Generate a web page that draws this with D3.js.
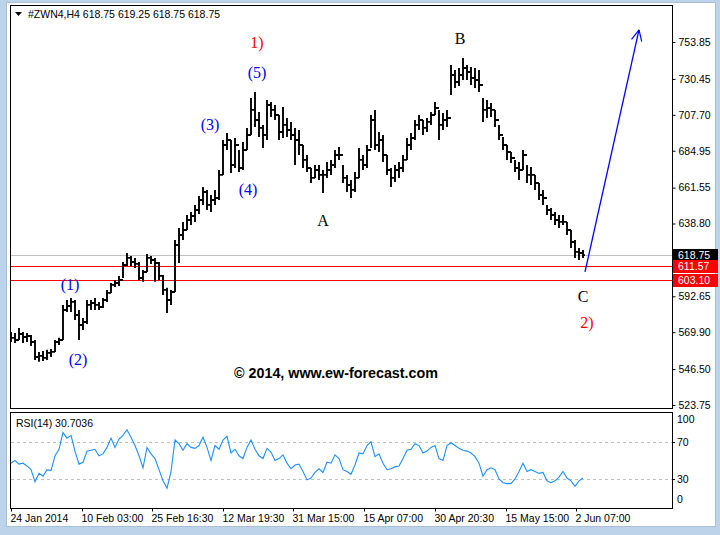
<!DOCTYPE html>
<html><head><meta charset="utf-8">
<script src="https://cdn.jsdelivr.net/npm/d3@7/dist/d3.min.js"></script>
<style>body{margin:0;background:#fff}svg{display:block}</style>
</head><body><svg id="c" width="720" height="535"></svg>
<script>
// ---- data (H4 bars, ZW N4) ----
const highs=[570.1,569.4,572.6,570.1,569.4,568.2,565.0,557.4,558.0,558.7,559.3,565.0,566.3,587.2,590.3,591.6,590.3,584.0,578.9,590.3,590.3,591.6,589.1,591.6,596.7,601.1,603.0,605.6,614.4,620.1,618.2,617.0,614.4,609.4,619.5,618.2,617.0,614.4,606.2,598.0,596.7,628.4,636.0,639.8,644.2,646.1,650.6,656.3,662.0,660.1,656.9,660.1,672.7,691.7,696.2,691.7,693.0,685.4,690.5,699.4,718.4,722.2,709.5,701.3,717.1,715.8,713.9,707.6,712.7,705.7,703.2,699.4,698.1,688.6,682.2,674.0,675.9,675.9,672.7,677.8,679.1,685.4,687.3,675.9,669.6,666.4,671.5,686.7,682.2,688.6,707.6,710.8,696.8,694.9,682.2,674.0,675.9,677.8,682.2,693.0,696.2,704.4,707.6,704.4,705.7,709.5,715.8,710.8,708.9,710.8,739.3,736.1,737.4,743.7,739.3,738.0,737.4,736.1,718.4,717.1,715.2,710.8,701.3,693.6,688.6,684.1,679.1,677.8,685.4,675.9,674.6,669.6,664.5,660.1,650.6,648.6,646.1,644.2,644.2,639.8,634.7,628.4,623.3,622.0];
const lows=[563.7,563.1,565.0,563.1,563.7,561.2,552.3,551.1,551.7,552.3,554.2,557.4,561.8,565.0,582.7,582.7,577.7,565.0,571.3,575.1,584.0,584.0,584.0,585.3,589.1,594.8,598.6,599.2,604.3,611.9,611.9,610.6,603.0,601.8,608.1,613.2,601.8,603.0,593.5,582.1,587.2,595.4,613.8,628.4,634.7,637.9,639.8,644.8,650.6,647.4,646.1,650.6,653.7,669.6,685.4,670.8,674.0,671.5,672.7,685.4,694.9,700.0,693.6,686.7,691.7,706.3,704.4,691.7,693.0,693.6,691.7,675.9,682.2,674.0,671.5,664.5,667.7,666.4,658.2,667.7,669.6,674.0,679.1,664.5,658.8,655.0,658.8,667.7,672.7,674.0,686.7,685.4,684.1,677.8,669.6,662.0,665.1,667.7,671.5,679.1,685.4,691.7,698.1,694.9,696.8,701.3,707.6,691.7,698.1,700.0,720.3,724.7,726.0,729.8,729.8,726.6,724.7,722.2,703.2,705.7,706.3,700.0,691.7,685.4,679.1,677.2,671.5,666.4,672.7,664.5,663.2,660.1,653.7,650.6,644.2,641.0,637.9,636.0,637.9,631.5,623.3,617.0,615.7,617.0];
const closes=[566.3,565.0,568.8,566.9,567.5,563.7,554.2,554.9,553.6,556.8,557.4,563.7,565.0,584.0,586.5,589.1,580.8,574.5,576.4,587.2,588.4,587.2,585.9,590.3,594.8,599.9,601.1,603.0,612.5,617.0,614.4,613.2,604.3,608.1,617.0,615.7,613.8,605.6,596.7,590.3,595.4,625.2,631.5,634.7,641.0,643.6,647.4,653.7,658.8,650.6,653.7,655.0,669.6,688.6,691.7,675.9,688.6,674.0,685.4,694.9,710.8,704.4,699.4,694.9,713.9,710.8,707.6,696.8,701.3,698.1,694.9,691.7,688.6,679.1,674.0,667.7,672.7,669.6,669.6,672.7,675.9,682.2,682.2,667.7,663.2,660.1,667.7,679.1,675.9,685.4,704.4,688.6,691.7,682.2,672.7,667.7,672.7,674.0,679.1,688.6,693.0,701.3,704.4,699.4,703.2,707.6,712.0,701.3,704.4,705.7,732.9,728.5,732.9,737.4,734.8,731.0,729.8,726.6,710.8,712.0,710.8,704.4,694.9,688.6,684.1,680.3,674.0,672.7,682.2,669.6,669.6,664.5,656.9,655.0,647.4,644.2,641.0,639.8,639.8,634.7,627.1,620.8,620.1,618.75];
const rsiValues=[47,50,46,47,44,40,27,36,33,40,39,55,62,80,74,77,60,46,48,60,61,62,55,57,64,74,64,73,77,83,75,66,55,42,64,57,52,40,28,20,38,72,68,61,68,64,63,66,75,64,50,66,62,72,76,58,62,55,52,64,72,62,55,52,63,59,50,52,56,47,41,45,46,38,29,31,37,41,37,48,47,56,52,40,38,35,45,58,57,66,70,54,57,47,40,41,43,44,52,61,62,68,66,58,60,64,66,52,50,66,69,66,63,61,60,58,54,47,33,40,42,40,30,26,25,25,30,38,47,38,40,38,36,37,28,26,28,32,38,31,28,22,28,31];
const priceTicks=[753.85,730.45,707.70,684.95,661.55,638.80,592.65,569.90,546.50,523.75];
const levelValues=[618.75,611.57,603.10];
const rsiTicks=[100,70,30,0];
const rsiLevels=[70,30];
const dateLabels=["24 Jan 2014","10 Feb 03:00","25 Feb 16:30","12 Mar 19:30","31 Mar 15:00","15 Apr 07:00","30 Apr 20:30","15 May 15:00","2 Jun 07:00"];
const dateIndex=[0,17.75,35.25,53,70.5,88.25,106,123.75,141.25];
const waveText=["1)","(5)","(3)","(4)","(1)","(2)","A","B","C","2)"];
const waveIndex=[61.5,61.5,49.75,59.25,14.75,16.75,78,112.25,143,144];
const wavePrice=[753.9,734.8,701.9,660.1,600.5,552.9,641.0,756.4,592.3,576.4];
const arrowIndex=[143.5,157];
const arrowPrice=[608.1,761.5];
const titleText="#ZWN4,H4  618.75 619.25 618.75 618.75";
const rsiTitle="RSI(14) 30.7036";
const copyright="\u00a9 2014, www.ew-forecast.com";

// ---- styles ----
const waveColors=["#ff0000","#0000ff","#0000ff","#0000ff","#0000ff","#0000ff","#000","#000","#000","#ff0000"];
const levelColors=["#c0c0c0","#ff0000","#ff0000"];
const levelBg=["#000","#ff0000","#ff0000"];
const FONT="'Liberation Sans', Arial, sans-serif";
const SERIF="'Liberation Serif','Times New Roman',serif";

const svg=d3.select("#c");
// window frame
svg.append("rect").attr("x",0).attr("y",0).attr("width",720).attr("height",535).attr("fill","#bcd3ea");
svg.append("rect").attr("x",6.5).attr("y",2.5).attr("width",709).attr("height",524).attr("fill","#fff").attr("stroke","#a9bfd6");

const L=10,R=672,T=5,B=408,RT=412,RB=508;
const x=d3.scaleLinear().domain([0,165.25]).range([11,672]);
const y=d3.scaleLinear().domain([523.75,753.85]).range([405,42]);
const yr=d3.scaleLinear().domain([0,100]).range([506.8,414]);

const g=svg.append("g");
// level lines
levelValues.forEach((v,k)=>{
  g.append("line").attr("x1",L).attr("x2",R).attr("y1",Math.round(y(v))+0.5).attr("y2",Math.round(y(v))+0.5)
   .attr("stroke",levelColors[k]).attr("stroke-width",1);
});

// bars
const idx=d3.range(highs.length);
const bars=g.append("g").attr("stroke","#000").attr("stroke-width",1.9);
bars.selectAll("line.hl").data(idx).join("line").attr("class","hl")
  .attr("x1",i=>x(i)).attr("x2",i=>x(i)).attr("y1",i=>y(highs[i])).attr("y2",i=>y(lows[i]));
bars.selectAll("line.op").data(idx.filter(i=>i>0)).join("line").attr("class","op")
  .attr("x1",i=>x(i)-2).attr("x2",i=>x(i)).attr("y1",i=>y(closes[i-1])).attr("y2",i=>y(closes[i-1]));
bars.selectAll("line.cl").data(idx).join("line").attr("class","cl")
  .attr("x1",i=>x(i)).attr("x2",i=>x(i)+2).attr("y1",i=>y(closes[i])).attr("y2",i=>y(closes[i]));

// arrow
const ax1=x(arrowIndex[0]),ay1=y(arrowPrice[0]),ax2=x(arrowIndex[1]),ay2=y(arrowPrice[1]);
g.append("line").attr("x1",ax1).attr("y1",ay1).attr("x2",ax2).attr("y2",ay2).attr("stroke","#0000ff").attr("stroke-width",1.3);
const ang=Math.atan2(ay2-ay1,ax2-ax1);
[-0.45,0.45].forEach(d=>{
  g.append("line").attr("x1",ax2).attr("y1",ay2)
   .attr("x2",ax2-12*Math.cos(ang+d)).attr("y2",ay2-12*Math.sin(ang+d))
   .attr("stroke","#0000ff").attr("stroke-width",1.2);
});

// wave labels
waveText.forEach((t,k)=>{
  svg.append("text").attr("x",x(waveIndex[k])).attr("y",y(wavePrice[k])).attr("dy","0.35em")
   .attr("text-anchor","middle").attr("font-family",SERIF).attr("font-size",16)
   .attr("fill",waveColors[k]).text(t);
});
svg.append("text").attr("x",336).attr("y",378).attr("text-anchor","middle").attr("font-family",FONT)
  .attr("font-weight","bold").attr("font-size",14.3).attr("fill","#000").text(copyright);

// borders
svg.append("rect").attr("x",L+0.5).attr("y",T+0.5).attr("width",R-L).attr("height",B-T).attr("fill","none").attr("stroke","#000");
svg.append("rect").attr("x",L+0.5).attr("y",RT+0.5).attr("width",R-L).attr("height",RB-RT).attr("fill","none").attr("stroke","#000");

// title
svg.append("path").attr("d","M15,12 L22,12 L18.5,16 Z").attr("fill","#000");
svg.append("text").attr("x",28).attr("y",17.5).attr("font-family",FONT).attr("font-size",10.5).attr("fill","#000").text(titleText);

// price axis
const pa=svg.append("g").attr("transform",`translate(${R+0.5},0)`)
  .call(d3.axisRight(y).tickValues(priceTicks).tickSize(3).tickPadding(3).tickFormat(d3.format(".2f")));
pa.select(".domain").remove();
pa.selectAll("text").attr("font-family",FONT).attr("font-size",10.5).attr("fill","#000");
pa.selectAll("line").attr("stroke","#000");

// level tags
levelValues.forEach((v,k)=>{
  const yy=Math.round(y(v));
  svg.append("rect").attr("x",R+1).attr("y",yy-6).attr("width",45).attr("height",13).attr("fill",levelBg[k]);
  svg.append("text").attr("x",R+6).attr("y",yy+4).attr("font-family",FONT).attr("font-size",10.5).attr("fill","#fff").text(d3.format(".2f")(v));
});

// RSI
rsiLevels.forEach(v=>{
  svg.append("line").attr("x1",L+1).attr("x2",R).attr("y1",Math.round(yr(v))+0.5).attr("y2",Math.round(yr(v))+0.5)
   .attr("stroke","#c0c0c0").attr("stroke-dasharray","3,3");
  svg.append("line").attr("x1",R).attr("x2",R+3).attr("y1",Math.round(yr(v))+0.5).attr("y2",Math.round(yr(v))+0.5).attr("stroke","#000");
});
svg.append("path").datum(rsiValues).attr("fill","none").attr("stroke","#1e90ff").attr("stroke-width",1.1)
  .attr("d",d3.line().x((d,i)=>x(i)).y(d=>yr(d)));
svg.append("text").attr("x",16).attr("y",426.5).attr("font-family",FONT).attr("font-size",10.5).attr("fill","#000").text(rsiTitle);
rsiTicks.forEach(v=>{
  let yy=yr(v)+4; if(v===100) yy+=5; if(v===0) yy-=8;
  svg.append("text").attr("x",R+5).attr("y",yy).attr("font-family",FONT).attr("font-size",10.5).attr("fill","#000").text(v);
});

// date axis
const da=svg.append("g").attr("transform",`translate(0,${RB+0.5})`)
  .call(d3.axisBottom(x).tickValues(dateIndex).tickSize(3).tickFormat((d,i)=>dateLabels[i]));
da.select(".domain").remove();
da.selectAll("line").attr("stroke","#000");
da.selectAll("text").attr("text-anchor","start").attr("dx",-1).attr("y",13.5).attr("dy",0)
  .attr("font-family",FONT).attr("font-size",10.5).attr("fill","#000");
</script></body></html>
